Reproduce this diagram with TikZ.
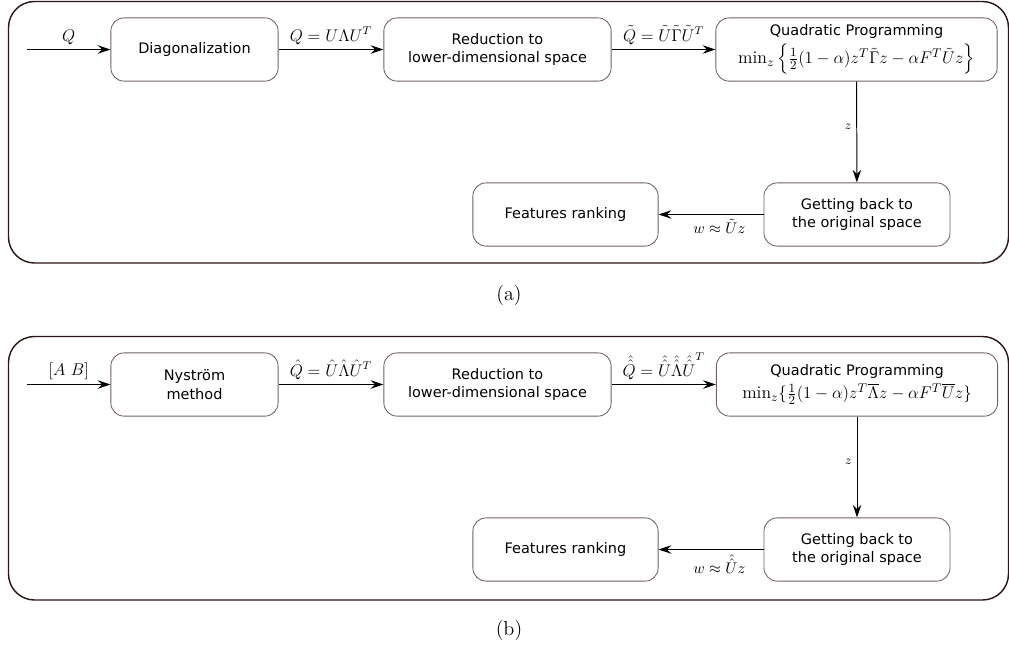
\documentclass[tikz,border=0pt]{standalone}
\usepackage{fontspec}
\setsansfont{DejaVu Sans}
\usepackage{amsmath}
\usepackage{xcolor}
\usetikzlibrary{arrows.meta}
\usetikzlibrary{math}
\definecolor{boxgray}{RGB}{112,96,96}
\definecolor{panelbrown}{RGB}{45,20,20}

\tikzset{
  blk/.style={draw=boxgray, line width=0.6pt, rounded corners=0.33cm, align=center,
    font=\sffamily\fontsize{10.3}{13.5}\selectfont, minimum height=1.58cm, inner sep=2pt},
  flow/.style={-{Stealth[length=9pt,width=6pt,inset=3pt]}, line width=0.7pt},
  lbl/.style={font=\large},
  panel/.style={draw=panelbrown, line width=1pt, rounded corners=0.65cm}
}
\newcommand{\qpsize}{\fontsize{12.6}{15}\selectfont}

\begin{document}
\begin{tikzpicture}[x=0.025cm, y=-0.025cm]
\tikzmath{
\ytop=49.5;
\ybot=214.5;
\dy=335;
}
\useasboundingbox (0,0) rectangle (1009,651);

%top part (a):
\draw[panel] (8.5,1.5) rectangle (1008.5,263);
%blocks
\node[blk, minimum width=4.18cm] (diagA) at (194.5,\ytop) {Diagonalization};
\node[blk, minimum width=5.68cm] (redA) at (497.5,\ytop) {Reduction to\\lower-dimensional space};
\node[blk, minimum width=7.03cm] (qpA) at (856.5,\ytop) {Quadratic Programming\\[3pt]
  {\qpsize$\min_z\left\{\frac{1}{2}(1-\alpha)z^T\tilde{\Gamma}z-\alpha F^T\tilde{U}z\right\}$}};
\node[blk, minimum width=4.65cm] (backA) at (857,\ybot) {Getting back to\\the original space};
\node[blk, minimum width=4.63cm] (rankA) at (565.5,\ybot) {Features ranking};
\coordinate (inA) at (27,\ytop);
%arrows
\draw[flow] (inA) -- (diagA.west) node[midway,above,lbl] {$Q$};
\draw[flow] (diagA) -- (redA) node[midway,above,lbl] {$Q=U\Lambda U^T$};
\draw[flow] (redA) -- (qpA) node[midway,above,lbl] {$\tilde{Q}=\tilde{U}\tilde{\Gamma}\tilde{U}^T$};
\draw[flow] (qpA) -- (backA) node[pos=0.45,left,font=\small] {$z$};
\draw[flow] (backA) -- (rankA) node[pos=0.42,below,font=\fontsize{11}{13}\selectfont] {$w\approx\tilde{U}z$};
%caption
\node[font=\Large] (capA) at (509,295) {(a)};

%bottom part (b):
\begin{scope}[shift={(0,\dy)}]
\draw[panel] (8.5,1.5) rectangle (1008.5,265);
%blocks
\node[blk, minimum width=4.18cm] (nysB) at (194.5,\ytop) {Nyström\\method};
\node[blk, minimum width=5.68cm] (redB) at (497.5,\ytop) {Reduction to\\lower-dimensional space};
\node[blk, minimum width=7.03cm] (qpB) at (857,\ytop) {Quadratic Programming\\[3pt]
  {\qpsize$\min_z\{\frac{1}{2}(1-\alpha)z^T\overline{\Lambda}z-\alpha F^T\overline{U}z\}$}};
\node[blk, minimum width=4.65cm] (backB) at (857,\ybot) {Getting back to\\the original space};
\node[blk, minimum width=4.63cm] (rankB) at (565.5,\ybot) {Features ranking};
\coordinate (inB) at (27,\ytop);
%arrows
\draw[flow] (inB) -- (nysB.west) node[midway,above,lbl] {$[A\ B]$};
\draw[flow] (nysB) -- (redB) node[midway,above,lbl] {$\hat{Q}=\hat{U}\hat{\Lambda}\hat{U}^T$};
\draw[flow] (redB) -- (qpB) node[midway,above,lbl] {$\hat{\hat{Q}}=\hat{\hat{U}}\hat{\hat{\Lambda}}{\hat{\hat{U}}}^T$};
\draw[flow] (qpB) -- (backB) node[pos=0.45,left,font=\small] {$z$};
\draw[flow] (backB) -- (rankB) node[pos=0.42,below,font=\fontsize{11}{13}\selectfont] {$w\approx\hat{\hat{U}}z$};
%caption
\node[font=\Large] (capB) at (509,295) {(b)};
\end{scope}
\end{tikzpicture}
\end{document}
